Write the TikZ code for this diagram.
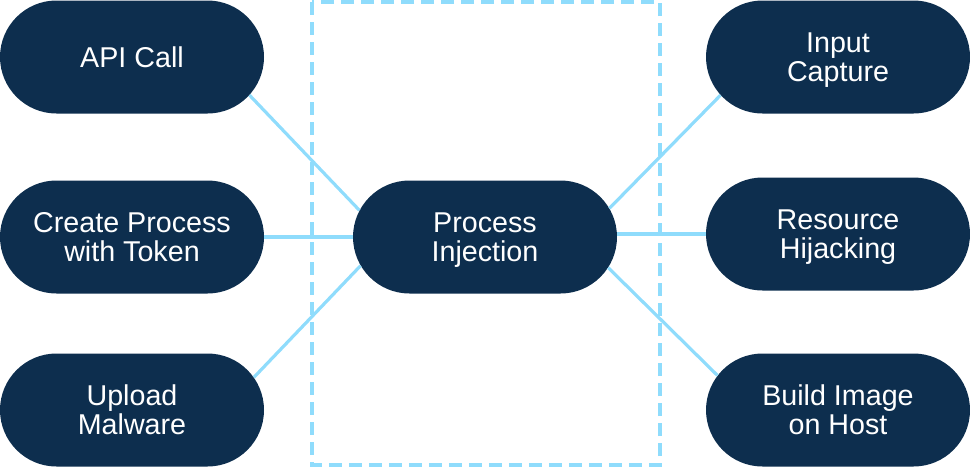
\documentclass[tikz,border=0pt]{standalone}
\usepackage{fontspec}
\setmainfont{Liberation Sans}
\usetikzlibrary{shapes.misc}
\definecolor{pillblue}{HTML}{0D2E4E}
\definecolor{linkblue}{HTML}{8FDCFC}

\begin{document}
\begin{tikzpicture}[x=0.75pt, y=-0.75pt,
    pill/.style={rounded rectangle, fill=pillblue, text=white, minimum width=198pt,
        minimum height=84.75pt, inner sep=0pt, align=center, text depth=0pt,
        font=\fontsize{21.5}{21.75}\selectfont},
    link/.style={linkblue, line width=2.4pt}]
        \useasboundingbox (0,0) rectangle (970,468);
        % dashed frame round the middle
        \draw[linkblue, line width=2.4pt, dash pattern=on 9.75pt off 5.25pt] (312,2) rectangle (660,465);

        % left side
        \node[pill] (api) at (132,57) {API Call};
        \node[pill] (create) at (132,237) {Create Process\\with Token};
        \node[pill] (upload) at (132,410) {Upload\\Malware};

        % middle
        \node[pill] (inj) at (485,237) {Process\\Injection};

        % right side
        \node[pill] (input) at (838,57) {Input\\Capture};
        \node[pill] (resource) at (838,234) {Resource\\Hijacking};
        \node[pill] (build) at (838,410) {Build Image\\on Host};

        % links
        \draw[link] (api.-18) -- (inj.168);
        \draw[link] (create.east) -- (inj.west);
        \draw[link] (upload.15) -- (inj.193);
        \draw[link] (inj.13) -- (input.198);
        \draw[link] (inj.east |- resource.west) -- (resource.west);
        \draw[link] (inj.-14) -- (build.164);
    \end{tikzpicture}
\end{document}
